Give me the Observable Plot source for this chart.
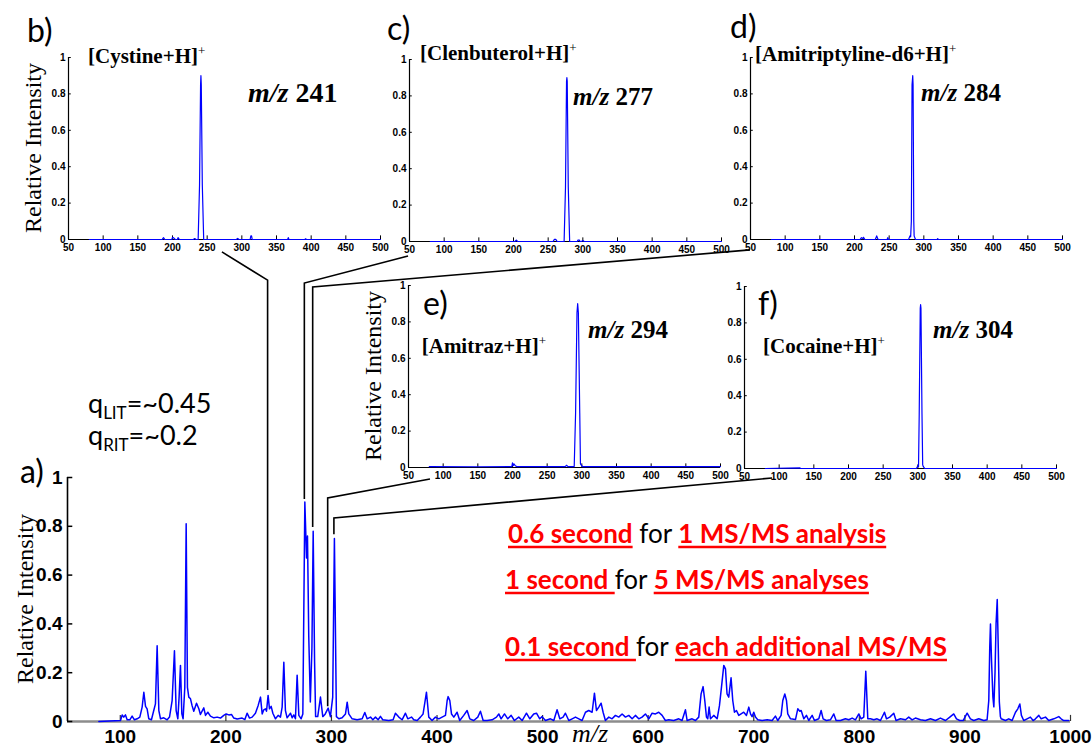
<!DOCTYPE html>
<html><head><meta charset="utf-8">
<script src="https://cdn.jsdelivr.net/npm/d3@7"></script>
<script src="https://cdn.jsdelivr.net/npm/@observablehq/plot@0.6"></script>
<style>
body{margin:0;background:#fff;}
#chart{position:relative;width:1092px;height:749px;overflow:hidden;background:#fff;}
#chart svg{position:absolute;overflow:visible;}
</style></head><body><div id="chart"></div>
<script>
// ---------- DATA ----------
// main spectrum (a): [m/z, relative intensity]
const mainSpectrum = [
[79.7,0],[100.2,0.004],[101.8,0.027],[103.3,0.018],[104.9,0.027],[106.5,0.007],[109,0.007],[111.2,0.022],[113.4,0.007],[116,0.011],[118.5,0.018],[120.7,0.059],[122.3,0.12],[123.9,0.062],[125.4,0.052],[127,0.011],[129.5,0.007],[131.7,0.045],[133.3,0.072],[134.9,0.31],[136.5,0.045],[138.1,0.011],[141.2,0.015],[144.4,0.007],[146.6,0.018],[149.1,0.086],[151.3,0.29],[152.9,0.045],[154.5,0.011],[155.7,0.1],[157,0.23],[158.3,0.031],[159.5,0.011],[161.1,0.14],[162.4,0.81],[163.6,0.14],[164.9,0.1],[166.5,0.093],[168,0.065],[169.6,0.042],[172.2,0.075],[174.4,0.052],[175.9,0.029],[179.1,0.056],[180.7,0.025],[182.9,0.038],[185.4,0.022],[188.6,0.015],[191.7,0.018],[194.9,0.014],[198,0.025],[200.3,0.031],[202.8,0.027],[205.3,0.029],[207.5,0.014],[210.7,0.01],[215.4,0.014],[218,0.008],[220.1,0.034],[222.4,0.014],[224.9,0.018],[228,0.034],[230.6,0.066],[232.8,0.1],[234.4,0.031],[235.9,0.048],[237.5,0.052],[238.5,0.042],[240,0.107],[241.3,0.052],[242.9,0.062],[244.5,0.034],[247,0.011],[249.5,0.025],[251.7,0.018],[253.3,0.059],[254.9,0.243],[256.4,0.045],[258,0.015],[261.2,0.034],[262.8,0.015],[264.3,0.027],[265.9,0.011],[267.5,0.19],[269.1,0.025],[271.3,0.011],[272.9,0.031],[274.8,0.9],[276.4,0.67],[277.3,0.76],[278.5,0.35],[280,0.08],[281.5,0.3],[282.7,0.78],[284,0.25],[285,0.02],[287,0.02],[289.6,0.1],[291.8,0.02],[294,0.03],[296.9,0.055],[299,0.02],[301.2,0.1],[302.8,0.75],[304.7,0.02],[307,0.011],[310.1,0.015],[313.3,0.031],[314.9,0.079],[316.4,0.031],[319.6,0.011],[324.3,0.007],[329.1,0.011],[331.6,0.037],[333.8,0.011],[337,0.018],[339.2,0.007],[341.7,0.018],[344.2,0.007],[346.4,0.021],[348.6,0.007],[354.3,0.004],[358.4,0.007],[360.6,0.034],[363.8,0.018],[366.9,0.007],[370.1,0.034],[372.3,0.011],[375.8,0.018],[378,0.007],[381.2,0.004],[384.3,0.018],
[386.8,0.031],[390,0.12],[392.2,0.018],[395.3,0.004],[398.5,0.018],[401.7,0.011],[404.8,0.018],[408,0.025],[409.6,0.086],[410.5,0.102],[412.1,0.086],[413.7,0.031],[415.9,0.018],[419,0.038],[421.5,0.004],[425.3,0.025],[428.5,0.045],[431,0.011],[434.8,0.004],[438.6,0.018],[441.1,0.042],[443.7,0.004],[447.4,0.004],[452.2,0.007],[456.3,0.018],[458.5,0.031],[460.7,0.011],[463.9,0.031],[467,0.011],[470.2,0.025],[473.3,0.004],[477.4,0.018],[480.6,0.004],[484.7,0.034],[487.9,0.011],[491.6,0.031],[494.2,0.034],[497.3,0.011],[499.5,0.02],[502.7,0.004],[507.4,0.011],[510.6,0.004],[513.7,0.048],[516.3,0.011],[519.4,0.018],[521.6,0.034],[524.8,0.004],[528,0.011],[531.1,0.018],[534.3,0.011],[537.4,0.004],[540.6,0.038],[543.7,0.045],[546.9,0.038],[549.1,0.116],[551,0.045],[553.2,0.059],[555.4,0.075],[557.3,0.038],[559.5,0.004],[562.7,0.018],[565.8,0.011],[569,0.025],[572.1,0.018],[575.3,0.031],[578.5,0.018],[581.6,0.025],[584.8,0.011],[587.9,0.025],[591.1,0.011],[594.2,0.018],[597.4,0.031],[600.6,0.011],[603.7,0.034],[606.9,0.031],[610,0.038],[613.2,0.025],[616.3,0.004],[619.5,0.007],[624.2,0.004],[629,0.011],[632.1,0.004],[635.3,0.048],[636.9,0.004],[641.6,0.011],[644.8,0.004],[647.9,0.018],[650.1,0.113],[652,0.143],[653.6,0.086],[655.2,0.018],[656.4,0.011],[657.7,0.059],[659,0.011],[662.1,0.025],[665.3,0.011],[667.5,0.065],[669.4,0.14],[671.6,0.23],[673.2,0.216],[674.7,0.113],[676.3,0.1],[678.5,0.179],[680.1,0.086],[681.7,0.038],[683.6,0.045],[685.8,0.025],[688,0.031],[690.5,0.038],[693.1,0.025],
[695.3,0.059],[696.9,0.031],[698.4,0.02],[700,0.038],[701.6,0.018],[703.8,0.007],[707.9,0.004],[712.7,0.007],[717.4,0.004],[720.5,0.022],[722.8,0.004],[725.9,0.025],[727.5,0.086],[729.4,0.113],[731,0.086],[732.2,0.031],[734.8,0.011],[739.5,0.008],[741.7,0.052],[743.6,0.042],[744.9,0.045],[747.4,0.011],[749.9,0.025],[752.1,0.004],[755.3,0.025],[757.5,0.004],[761.6,0.011],[763.8,0.045],[765.7,0.011],[768.8,0.004],[772.6,0.007],[775.8,0.031],[778,0.004],[782.1,0.004],[786.8,0.011],[790,0.007],[793.2,0.014],[796.3,0.007],[799.5,0.031],[801.7,0.011],[804.2,0.018],[806.1,0.206],[808,0.011],[810.5,0.011],[813.7,0.007],[816.8,0.011],[820,0.004],[823.8,0.038],[825.7,0.011],[828.8,0.018],[832.6,0.034],[834.8,0.004],[838.9,0.011],[843.7,0.007],[846.8,0.018],[850,0.007],[853.1,0.014],[857.9,0.007],[862.6,0.004],[867.4,0.011],[872.1,0.004],[876.8,0.014],[881.6,0.004],[885.7,0.018],[889.4,0.031],[892,0.011],[895.1,0.004],[898.3,0.004],[902.1,0.034],[905.2,0.011],[908.4,0.004],[913.1,0.011],[917.9,0.004],[921,0.007],[922.6,0.086],[923.5,0.3],[924.2,0.4],[925.2,0.25],[926.5,0.1],[927.4,0.06],[928.5,0.2],[929.5,0.4],[930.6,0.5],[931.6,0.3],[932.6,0.08],[933.6,0.02],[934.3,0.011],[938.4,0.004],[941.5,0.011],[944.7,0.004],[947.9,0.038],[950.1,0.052],[952,0.072],[953.5,0.025],[955.7,0.004],[958.9,0.011],[962,0.018],[964.6,0.004],[966.8,0.011],[970,0.025],[972.2,0.011],[976.3,0.018],[979.4,0.004],[984.2,0.011],[988.9,0.02],[991.1,0.011],[993.6,0.004],[998.4,0.004]
];
// MS/MS spectra (b-f)
const spectrumB = [[80,0],[185,0],[187,0.01],[189,0],[199,0],[200,0.012],[202,0.008],[204,0],[207,0],[208,0.01],[210,0],[230,0],[232,0.005],[234,0],[237,0],[239,0.3],[240.5,0.85],[241,0.9],[241.5,0.85],[243,0.3],[245,0],[292,0],[294,0.006],[296,0],[312,0],[313,0.02],[314,0.02],[315,0],[366,0],[367,0.01],[368,0],[391,0],[392,0.004],[393,0],[500,0]];
const spectrumC = [[80,0],[202,0],[204,0.008],[206,0],[257,0],[259,0.012],[261,0.012],[263,0],[273,0],[275,0.3],[276.5,0.88],[277,0.9],[277.5,0.88],[279,0.3],[281,0],[292,0],[293,0.008],[295,0.008],[296,0],[298,0],[300,0.005],[302,0],[500,0]];
const spectrumD = [[80,0],[208,0],[210,0.01],[212,0.005],[213,0.012],[215,0],[230,0],[232,0.02],[234,0],[247,0],[248,0.01],[249,0],[278,0],[280,0.02],[281,0.015],[282,0.1],[283,0.85],[284,0.9],[284.5,0.85],[285.5,0.1],[286,0.02],[288,0],[319,0],[320,0.005],[321,0],[500,0]];
const spectrumE = [[80,0.005],[150,0.004],[199,0.005],[200,0.025],[201,0.01],[202,0.02],[204,0.01],[206,0.005],[276,0.005],[278,0.012],[280,0.005],[289,0.005],[291,0.3],[293,0.85],[294,0.9],[295,0.85],[297,0.3],[298,0.02],[299,0.015],[301,0.005],[500,0.005]];
const spectrumF = [[80,0],[130,0.003],[131,0],[298,0],[300,0.015],[301,0.01],[302,0.3],[303.5,0.88],[304,0.9],[304.5,0.88],[306,0.3],[307,0.02],[308,0.01],[310,0],[500,0]];

const panelLetters = ["b)","c)","d)","e)","f)"];
const compounds = ["[Cystine+H]","[Clenbuterol+H]","[Amitriptyline-d6+H]","[Amitraz+H]","[Cocaine+H]"];
const precursors = ["241","277","284","294","304"];
// where each precursor connector leaves the full-scan spectrum (a)
const connectorPeakMz = [240, 274.8, 282.7, 296.9, 302.8];
const connectorBottom = [0.127, 0.91, 0.795, 0.06, 0.765];
const connectorElbow = [1.807, 1.795, 1.779, 0.914, 0.832];
// where each connector meets its inset (inset data units)
const connectorEndMz = [272, 48.6, 50, 81.7, 90.4];
const connectorEndInt = [-0.071, -0.082, -0.06, -0.066, -0.055];
// label anchors inside insets (inset data units)
const titleAt = [[78.9,0.967],[65.9,0.995],[57.2,0.978],[69.8,0.626],[77.4,0.632]];
const mzLabelAt = [[309.7,0.754],[286.7,0.747],[296.8,0.758],[309.7,0.709],[322.7,0.714]];

const mainXTicks = [100,200,300,400,500,600,700,800,900,1000];
const mainYTicks = [0,0.2,0.4,0.6,0.8,1];
const insetXTicks = [50,100,150,200,250,300,350,400,450,500];
const insetYTicks = [0,0.2,0.4,0.6,0.8,1];

// ---------- LAYOUT ----------
const W = 1092, H = 749;
const insetFrames = [[68,57],[409,59],[750,57],[408,285],[744,286]];
const insetYLabel = [true,false,false,true,false];
const panelLetterPos = [[27,42],[387,40],[730,38],[423,315],[758,315]];
const IW = 312, IH = 182, IML = 50, IMT = 14, IMR = 20, IMB = 24;
const SANS = "Liberation Sans, Arial, sans-serif";
const SERIF = "Liberation Serif, Times New Roman, serif";
const CAL = "Lato, Open Sans, sans-serif";
const BLUE = "#0000ff";

const chart = document.getElementById("chart");
const toRows = arr => arr.map(([mz, v]) => ({mz, v}));

const main = Plot.plot({
  width: W, height: H,
  marginLeft: 67, marginRight: 22, marginTop: 477, marginBottom: 28,
  x: {domain: [50, 1000]},
  y: {domain: [0, 1]},
  style: {fontFamily: SANS, fontSize: "19px", fontWeight: "bold", color: "#000", background: "transparent", overflow: "visible"},
  marks: [
    Plot.ruleY([0], {stroke: "#8c8c8c", strokeWidth: 2.5}),
    Plot.ruleX(mainXTicks, {x: d => d, y1: 0, y2: 0.025, stroke: "#333", strokeWidth: 1.2}),
    Plot.ruleY(mainYTicks, {y: d => d, x1: 50, x2: 55, stroke: "#000", strokeWidth: 1.5}),
    Plot.ruleX([50], {y1: 0, y2: 1, stroke: "#000", strokeWidth: 1.6}),
    Plot.line(toRows(mainSpectrum), {x: "mz", y: "v", stroke: BLUE, strokeWidth: 1.5}),
    Plot.axisX({ticks: mainXTicks, tickSize: 0, tickPadding: 8, tickFormat: d => String(d), label: null}),
    Plot.axisY({ticks: mainYTicks, tickSize: 0, tickPadding: 5, tickFormat: d => String(d), label: null})
  ]
});
main.style.left = "0px"; main.style.top = "0px";
chart.appendChild(main);

const insetData = [spectrumB, spectrumC, spectrumD, spectrumE, spectrumF];
const insets = insetData.map((spec, i) => {
  const p = Plot.plot({
    width: IW + IML + IMR, height: IH + IMT + IMB,
    marginLeft: IML, marginRight: IMR, marginTop: IMT, marginBottom: IMB,
    x: {domain: [50, 500]},
    y: {domain: [0, 1]},
    style: {fontFamily: SANS, fontSize: "10px", fontWeight: "bold", color: "#000", background: "transparent", overflow: "visible"},
    marks: [
      Plot.ruleX(insetXTicks, {x: d => d, y1: 0, y2: 0.02, stroke: "#000"}),
      Plot.ruleY(insetYTicks, {y: d => d, x1: 50, x2: 54, stroke: "#000"}),
      Plot.ruleY([0], {stroke: "#000", strokeWidth: 1.2}),
      Plot.ruleX([50], {y1: 0, y2: 1, stroke: "#000", strokeWidth: 1.2}),
      Plot.line(toRows(spec), {x: "mz", y: "v", stroke: BLUE, strokeWidth: 1.2}),
      Plot.axisX({ticks: insetXTicks, tickSize: 0, tickPadding: 4, tickFormat: d => String(d), label: null}),
      Plot.axisY({ticks: insetYTicks, tickSize: 0, tickPadding: 3, tickFormat: d => String(d), label: null})
    ]
  });
  const left = insetFrames[i][0] - IML, top = insetFrames[i][1] - IMT;
  p.style.left = left + "px"; p.style.top = top + "px";
  chart.appendChild(p);
  return {p, left, top, x: p.scale("x"), y: p.scale("y")};
});

// ---------- OVERLAY (connectors + annotations) ----------
const ov = d3.select(chart).append("svg").attr("width", W).attr("height", H)
  .style("left", "0px").style("top", "0px").style("pointer-events", "none");
const mx = main.scale("x"), my = main.scale("y");

insets.forEach((ins, i) => {
  const x0 = mx.apply(connectorPeakMz[i]);
  const yb = my.apply(connectorBottom[i]);
  const ye = my.apply(connectorElbow[i]);
  const ex = ins.left + ins.x.apply(connectorEndMz[i]);
  const ey = ins.top + ins.y.apply(connectorEndInt[i]);
  ov.append("path").attr("d", `M${x0},${yb}L${x0},${ye}L${ex},${ey}`)
    .attr("fill", "none").attr("stroke", "#000").attr("stroke-width", 1.6);
});

// axis titles
ov.append("text").attr("transform", `translate(33,${my.apply(0.5)}) rotate(-90)`)
  .attr("text-anchor", "middle").attr("font-family", SERIF).attr("font-size", 24).text("Relative Intensity");
ov.append("text").attr("x", 572).attr("y", 742).attr("font-family", SERIF).attr("font-size", 26)
  .attr("font-style", "italic").text("m/z");

insets.forEach((ins, i) => {
  if (insetYLabel[i]) {
    const cx = ins.left + IML - 27, cy = ins.top + ins.y.apply(0.5);
    ov.append("text").attr("transform", `translate(${cx},${cy}) rotate(-90)`)
      .attr("text-anchor", "middle").attr("font-family", SERIF).attr("font-size", 24).text("Relative Intensity");
  }
  // compound title with superscript +
  const t = ov.append("text").attr("x", ins.left + ins.x.apply(titleAt[i][0])).attr("y", ins.top + ins.y.apply(titleAt[i][1]))
    .attr("font-family", SERIF).attr("font-size", 21).attr("font-weight", "bold");
  t.append("tspan").text(compounds[i]);
  t.append("tspan").attr("font-size", 13).attr("font-weight", "normal").attr("dy", -8).text("+");
  // m/z label
  const m = ov.append("text").attr("x", ins.left + ins.x.apply(mzLabelAt[i][0])).attr("y", ins.top + ins.y.apply(mzLabelAt[i][1]))
    .attr("font-family", SERIF).attr("font-size", i === 0 ? 28 : 25).attr("font-weight", "bold");
  m.append("tspan").attr("font-style", "italic").text("m/z");
  m.append("tspan").text(" " + precursors[i]);
  // panel letter
  ov.append("text").attr("x", panelLetterPos[i][0]).attr("y", panelLetterPos[i][1])
    .attr("font-family", CAL).attr("font-size", 32).text(panelLetters[i]);
});
ov.append("text").attr("x", 20).attr("y", 483).attr("font-family", CAL).attr("font-size", 32).text("a)");

// q values
function qLine(y, sub, val) {
  const t = ov.append("text").attr("x", 88).attr("y", y).attr("font-family", CAL).attr("font-size", 27);
  t.append("tspan").text("q");
  t.append("tspan").attr("font-size", 17).attr("dy", 6).text(sub);
  t.append("tspan").attr("dy", -6).text("=~" + val);
}
qLine(413, "LIT", "0.45");
qLine(445, "RIT", "0.2");

// timing statements
function richLine(x, y, segs) {
  let cx = x;
  for (const [s, red] of segs) {
    const t = ov.append("text").attr("x", cx).attr("y", y).attr("font-family", CAL).attr("font-size", 26)
      .attr("font-weight", red ? "bold" : "normal").attr("fill", red ? "#ff0000" : "#000")
      .style("white-space", "pre").text(s);
    const w = t.node().getComputedTextLength();
    if (red) ov.append("line").attr("x1", cx).attr("x2", cx + w).attr("y1", y + 4).attr("y2", y + 4)
      .attr("stroke", "#ff0000").attr("stroke-width", 2.5);
    cx += w;
  }
}
richLine(508, 543, [["0.6 second", true], [" for ", false], ["1 MS/MS analysis", true]]);
richLine(505, 589, [["1 second ", true], ["for ", false], ["5 MS/MS analyses", true]]);
richLine(505, 656, [["0.1 second ", true], ["for ", false], ["each additional MS/MS", true]]);
</script></body></html>
